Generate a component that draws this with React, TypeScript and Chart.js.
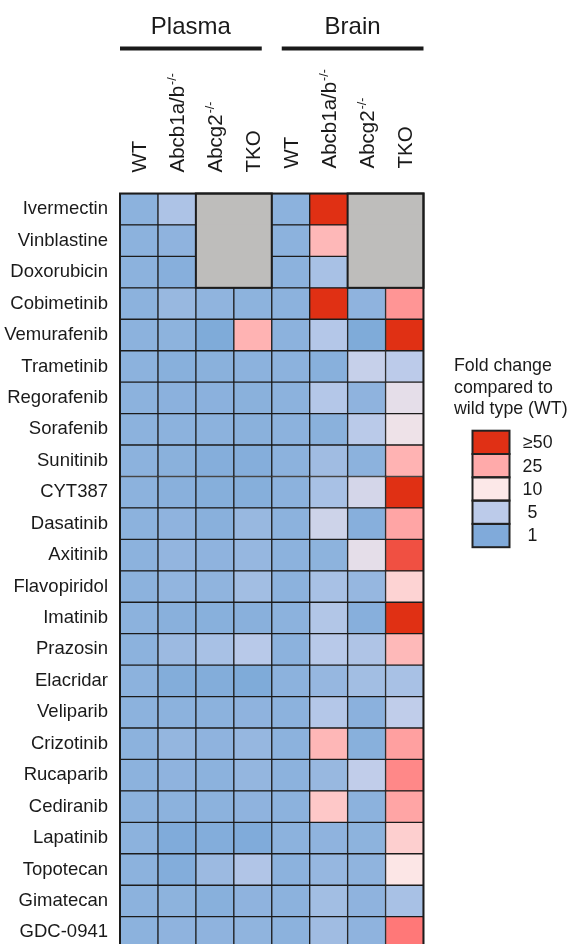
import React, { useEffect, useRef } from 'react';
import { Chart, registerables } from 'chart.js';

Chart.register(...registerables);

const FONT = "'Liberation Sans', Arial, Helvetica, sans-serif";

const drugs = [
  'Ivermectin', 'Vinblastine', 'Doxorubicin', 'Cobimetinib', 'Vemurafenib', 'Trametinib',
  'Regorafenib', 'Sorafenib', 'Sunitinib', 'CYT387', 'Dasatinib', 'Axitinib',
  'Flavopiridol', 'Imatinib', 'Prazosin', 'Elacridar', 'Veliparib', 'Crizotinib',
  'Rucaparib', 'Cediranib', 'Lapatinib', 'Topotecan', 'Gimatecan', 'GDC-0941',
];

const groups = ['Plasma', 'Brain'];
const columnLabels = ['WT', 'Abcb1a/b', 'Abcg2', 'TKO', 'WT', 'Abcb1a/b', 'Abcg2', 'TKO'];
const columnSuperscripts = ['', '-/-', '-/-', '', '', '-/-', '-/-', ''];

// fold change compared to wild type, one array per column (null = not measured)
const plasmaWT = [1, 1, 1, 1, 1, 1, 1, 1, 1, 1, 1, 1, 1, 1, 1, 1, 1, 1, 1, 1, 1, 1, 1, 1];
const plasmaAbcb1 = [3.0, 1.1, 0.82, 1.5, 1.05, 0.86, 0.95, 1, 0.93, 0.9, 1.1, 1.25, 1.22, 0.9, 1.7, 0.7, 1, 1.3, 1.1, 1, 0.63, 0.72, 1.05, 1.1];
const plasmaAbcg2 = [null, null, null, 1.14, 0.6, 0.93, 0.95, 1, 0.75, 0.8, 0.9, 1.1, 1.14, 0.86, 2.56, 0.7, 1, 1.1, 1, 1, 0.72, 1.7, 0.86, 1.1];
const plasmaTKO = [null, null, null, 1.05, 22, 1, 0.93, 0.93, 0.75, 0.8, 1.5, 1.4, 2.1, 0.9, 4.4, 0.6, 1.1, 1.4, 1.3, 1.1, 0.63, 3.5, 1.1, 1.14];
const brainWT = [1, 1, 1, 1, 1, 1, 1, 1, 1, 1, 1, 1, 1, 1, 1, 1, 1, 1, 1, 1, 1, 1, 1, 1];
const brainAbcb1 = [60, 20.3, 2.6, 60, 3.8, 0.86, 3.8, 0.93, 1.96, 2.6, 6, 1.05, 2.56, 3.6, 4.4, 1.4, 3.8, 20.5, 1.5, 16, 1.1, 1.4, 2.1, 1.96];
const brainAbcg2 = [null, null, null, 1.1, 0.6, 5.6, 1.1, 4.6, 1, 6.5, 0.82, 7.8, 1.4, 0.82, 3.2, 2.1, 0.95, 0.86, 5.3, 1, 1.05, 1.14, 1.1, 1.1];
const brainTKO = [null, null, null, 28.3, 60, 5, 7.8, 8.6, 22, 60, 25.7, 41.8, 13.6, 60, 20, 2.56, 5.2, 26.5, 30.5, 25.7, 14.4, 10.3, 2.56, 33.5];

const columnsData = [plasmaWT, plasmaAbcb1, plasmaAbcg2, plasmaTKO, brainWT, brainAbcb1, brainAbcg2, brainTKO];

// column spans of the not-measured blocks
const missingSpans = [
  [2, 4],
  [6, 8],
];

const legendLabels = ['\u226550', '25', '10', '5', '1'];
const legendColors = ['#e03015', '#ffaaaa', '#fce8e8', '#bccbea', '#80aada'];

const scaleStops = [0.5, 1, 5, 10, 25, 35, 50];
const scaleColors: number[][] = [
  [122, 168, 216],
  [140, 178, 221],
  [188, 203, 234],
  [252, 232, 232],
  [255, 170, 170],
  [255, 112, 112],
  [224, 48, 20],
];
const GRAY = '#bebdbb';
const LINE = '#1c1c1c';

function colorFor(v: number | null): string {
  if (v == null) return GRAY;
  const n = scaleStops.length;
  let c: number[];
  if (v <= scaleStops[0]) c = scaleColors[0];
  else if (v >= scaleStops[n - 1]) c = scaleColors[n - 1];
  else {
    let i = 0;
    while (i < n - 2 && v > scaleStops[i + 1]) i++;
    const f = (Math.log(v) - Math.log(scaleStops[i])) / (Math.log(scaleStops[i + 1]) - Math.log(scaleStops[i]));
    const a = scaleColors[i];
    const b = scaleColors[i + 1];
    c = [0, 1, 2].map((k) => Math.round(a[k] + (b[k] - a[k]) * f));
  }
  return `rgb(${c[0]},${c[1]},${c[2]})`;
}

const overlayPlugin = {
  id: 'overlay',
  afterDatasetsDraw(chart: any) {
    const { ctx, chartArea } = chart;
    const xs = chart.scales.x;
    const ys = chart.scales.y;
    const rowH = (chartArea.bottom - chartArea.top) / drugs.length;
    ctx.save();
    ctx.strokeStyle = LINE;
    ctx.lineWidth = 2;
    // outline of the not-measured blocks
    missingSpans.forEach(([a, b]) => {
      const rows = drugs.map((_, r) => r).filter((r) => columnsData[a][r] == null);
      if (!rows.length) return;
      const y0 = ys.getPixelForValue(rows[0]) - rowH / 2;
      const y1 = ys.getPixelForValue(rows[rows.length - 1]) + rowH / 2;
      const x0 = xs.getPixelForValue(a);
      const x1 = xs.getPixelForValue(b);
      ctx.strokeRect(x0, y0, x1 - x0, y1 - y0);
    });
    ctx.strokeRect(chartArea.left, chartArea.top, chartArea.right - chartArea.left, chartArea.bottom - chartArea.top);
    ctx.restore();
  },
  afterDraw(chart: any) {
    const { ctx } = chart;
    const xs = chart.scales.x;
    const px = (v: number) => xs.getPixelForValue(v);
    ctx.save();
    ctx.fillStyle = '#1a1a1a';

    // group headers
    const bars = [
      [px(0), px(4) - 10],
      [px(4) + 10, px(8)],
    ];
    bars.forEach(([a, b], i) => {
      ctx.fillRect(a, 46.5, b - a, 4);
      ctx.font = `24px ${FONT}`;
      ctx.textAlign = 'center';
      ctx.textBaseline = 'alphabetic';
      ctx.fillText(groups[i], (a + b) / 2, 34);
    });

    // column labels (rotated)
    columnLabels.forEach((lab, c) => {
      const cx = px(c + 0.5);
      const start = c < 4 ? 172.5 : 168.5;
      const fs = 20.5;
      ctx.save();
      ctx.translate(cx, start);
      ctx.rotate(-Math.PI / 2);
      ctx.font = `${fs}px ${FONT}`;
      ctx.textAlign = 'left';
      ctx.textBaseline = 'alphabetic';
      const base = fs * 0.36;
      ctx.fillText(lab, 0, base);
      const sup = columnSuperscripts[c];
      if (sup) {
        const w = ctx.measureText(lab).width;
        ctx.font = `12.5px ${FONT}`;
        ctx.fillText(sup, w + 1, base - 8);
      }
      ctx.restore();
    });

    // legend
    ctx.font = `17.8px ${FONT}`;
    ctx.textAlign = 'left';
    ctx.textBaseline = 'alphabetic';
    ['Fold change', 'compared to', 'wild type (WT)'].forEach((t, i) => {
      ctx.fillText(t, 454, 371 + i * 21.6);
    });
    const bx = 472.5;
    const bw = 37;
    const by = 430.7;
    const bh = 23.3;
    legendColors.forEach((col, i) => {
      ctx.fillStyle = col;
      ctx.fillRect(bx, by + i * bh, bw, bh);
    });
    ctx.strokeStyle = '#222';
    ctx.lineWidth = 2;
    legendColors.forEach((col, i) => {
      ctx.strokeRect(bx, by + i * bh, bw, bh);
    });
    ctx.fillStyle = '#1a1a1a';
    ctx.textBaseline = 'middle';
    legendLabels.forEach((t, i) => {
      const cy = by + i * bh + bh / 2 + 1;
      if (i === 0) {
        ctx.textAlign = 'left';
        ctx.fillText(t, 523, cy);
      } else {
        ctx.textAlign = 'center';
        ctx.fillText(t, 532.5, cy);
      }
    });
    ctx.restore();
  },
};

export default function App() {
  const ref = useRef<HTMLCanvasElement>(null);

  useEffect(() => {
    document.body.style.margin = '0';
    const canvas = ref.current;
    if (!canvas) return;

    const cellDatasets = columnsData.map((vals, c) => ({
      label: columnLabels[c],
      data: vals.map((v) => (v == null ? null : [c, c + 1])),
      backgroundColor: (ctx: any) => colorFor(vals[ctx.dataIndex]),
      borderColor: LINE,
      borderWidth: 1,
      borderSkipped: false,
      grouped: false,
      barPercentage: 1,
      categoryPercentage: 1,
    }));

    const missingBlocks = missingSpans.map(([a, b], k) => ({
      label: 'not measured ' + k,
      data: drugs.map((_, r) => (columnsData[a][r] == null ? [a, b] : null)),
      backgroundColor: GRAY,
      borderWidth: 0,
      inflateAmount: 0.8,
      borderSkipped: false,
      grouped: false,
      barPercentage: 1,
      categoryPercentage: 1,
    }));

    const chart = new Chart(canvas, {
      type: 'bar',
      data: {
        labels: drugs,
        datasets: [...cellDatasets, ...missingBlocks] as any,
      },
      options: {
        indexAxis: 'y',
        animation: false,
        responsive: false,
        devicePixelRatio: 1,
        layout: { padding: { top: 193.5, bottom: 11.9, left: 0, right: 144.5 } },
        plugins: {
          legend: { display: false },
          tooltip: { enabled: false },
        },
        scales: {
          x: { type: 'linear', min: 0, max: 8, display: false },
          y: {
            type: 'category',
            grid: { display: false, drawTicks: false },
            border: { display: false },
            ticks: {
              color: '#1a1a1a',
              padding: 12,
              font: { family: FONT, size: 18.5 },
            },
            afterFit: (scale: any) => {
              scale.width = 120;
              scale.paddingTop = 0;
              scale.paddingBottom = 0;
            },
          },
        },
      } as any,
      plugins: [overlayPlugin],
    });

    return () => chart.destroy();
  }, []);

  return (
    <div style={{ width: 568, height: 944, overflow: 'hidden', background: '#fff' }}>
      <canvas ref={ref} width={568} height={960} style={{ display: 'block' }} />
    </div>
  );
}
